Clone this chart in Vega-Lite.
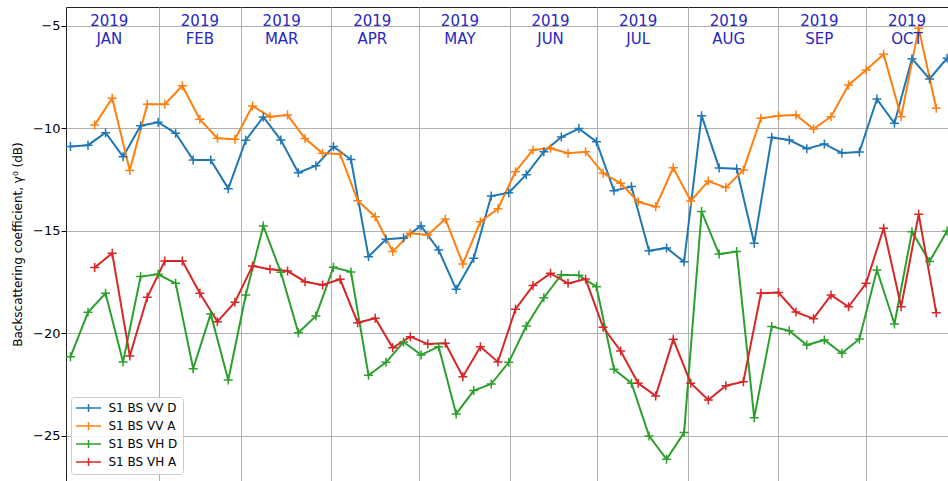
{
  "$schema": "https://vega.github.io/schema/vega-lite/v6.json",
  "autosize": "none",
  "width": 882,
  "height": 474,
  "padding": {"left": 66, "top": 7, "right": 0, "bottom": 0},
  "background": "white",
  "datasets": {
    "bs": [
      {"date":"2019-01-01T17:00:00Z","series":"S1 BS VV D","value":-10.90},
      {"date":"2019-01-07T17:00:00Z","series":"S1 BS VV D","value":-10.83},
      {"date":"2019-01-13T17:00:00Z","series":"S1 BS VV D","value":-10.22},
      {"date":"2019-01-19T17:00:00Z","series":"S1 BS VV D","value":-11.39},
      {"date":"2019-01-25T17:00:00Z","series":"S1 BS VV D","value":-9.88},
      {"date":"2019-01-31T17:00:00Z","series":"S1 BS VV D","value":-9.71},
      {"date":"2019-02-06T17:00:00Z","series":"S1 BS VV D","value":-10.25},
      {"date":"2019-02-12T17:00:00Z","series":"S1 BS VV D","value":-11.55},
      {"date":"2019-02-18T17:00:00Z","series":"S1 BS VV D","value":-11.55},
      {"date":"2019-02-24T17:00:00Z","series":"S1 BS VV D","value":-12.95},
      {"date":"2019-03-02T17:00:00Z","series":"S1 BS VV D","value":-10.59},
      {"date":"2019-03-08T17:00:00Z","series":"S1 BS VV D","value":-9.45},
      {"date":"2019-03-14T17:00:00Z","series":"S1 BS VV D","value":-10.58},
      {"date":"2019-03-20T17:00:00Z","series":"S1 BS VV D","value":-12.17},
      {"date":"2019-03-26T17:00:00Z","series":"S1 BS VV D","value":-11.83},
      {"date":"2019-04-01T17:00:00Z","series":"S1 BS VV D","value":-10.90},
      {"date":"2019-04-07T17:00:00Z","series":"S1 BS VV D","value":-11.53},
      {"date":"2019-04-13T17:00:00Z","series":"S1 BS VV D","value":-16.27},
      {"date":"2019-04-19T17:00:00Z","series":"S1 BS VV D","value":-15.42},
      {"date":"2019-04-25T17:00:00Z","series":"S1 BS VV D","value":-15.36},
      {"date":"2019-05-01T17:00:00Z","series":"S1 BS VV D","value":-14.77},
      {"date":"2019-05-07T17:00:00Z","series":"S1 BS VV D","value":-15.94},
      {"date":"2019-05-13T17:00:00Z","series":"S1 BS VV D","value":-17.86},
      {"date":"2019-05-19T17:00:00Z","series":"S1 BS VV D","value":-16.35},
      {"date":"2019-05-25T17:00:00Z","series":"S1 BS VV D","value":-13.31},
      {"date":"2019-05-31T17:00:00Z","series":"S1 BS VV D","value":-13.15},
      {"date":"2019-06-06T17:00:00Z","series":"S1 BS VV D","value":-12.27},
      {"date":"2019-06-12T17:00:00Z","series":"S1 BS VV D","value":-11.15},
      {"date":"2019-06-18T17:00:00Z","series":"S1 BS VV D","value":-10.43},
      {"date":"2019-06-24T17:00:00Z","series":"S1 BS VV D","value":-10.02},
      {"date":"2019-06-30T17:00:00Z","series":"S1 BS VV D","value":-10.66},
      {"date":"2019-07-06T17:00:00Z","series":"S1 BS VV D","value":-13.05},
      {"date":"2019-07-12T17:00:00Z","series":"S1 BS VV D","value":-12.85},
      {"date":"2019-07-18T17:00:00Z","series":"S1 BS VV D","value":-15.98},
      {"date":"2019-07-24T17:00:00Z","series":"S1 BS VV D","value":-15.84},
      {"date":"2019-07-30T17:00:00Z","series":"S1 BS VV D","value":-16.52},
      {"date":"2019-08-05T17:00:00Z","series":"S1 BS VV D","value":-9.39},
      {"date":"2019-08-11T17:00:00Z","series":"S1 BS VV D","value":-11.94},
      {"date":"2019-08-17T17:00:00Z","series":"S1 BS VV D","value":-11.98},
      {"date":"2019-08-23T17:00:00Z","series":"S1 BS VV D","value":-15.61},
      {"date":"2019-08-29T17:00:00Z","series":"S1 BS VV D","value":-10.45},
      {"date":"2019-09-04T17:00:00Z","series":"S1 BS VV D","value":-10.58},
      {"date":"2019-09-10T17:00:00Z","series":"S1 BS VV D","value":-11.00},
      {"date":"2019-09-16T17:00:00Z","series":"S1 BS VV D","value":-10.77},
      {"date":"2019-09-22T17:00:00Z","series":"S1 BS VV D","value":-11.21},
      {"date":"2019-09-28T17:00:00Z","series":"S1 BS VV D","value":-11.16},
      {"date":"2019-10-04T17:00:00Z","series":"S1 BS VV D","value":-8.58},
      {"date":"2019-10-10T17:00:00Z","series":"S1 BS VV D","value":-9.76},
      {"date":"2019-10-16T17:00:00Z","series":"S1 BS VV D","value":-6.61},
      {"date":"2019-10-22T17:00:00Z","series":"S1 BS VV D","value":-7.60},
      {"date":"2019-10-28T17:00:00Z","series":"S1 BS VV D","value":-6.59},

      {"date":"2019-01-10T00:00:00Z","series":"S1 BS VV A","value":-9.84},
      {"date":"2019-01-16T00:00:00Z","series":"S1 BS VV A","value":-8.54},
      {"date":"2019-01-22T00:00:00Z","series":"S1 BS VV A","value":-12.07},
      {"date":"2019-01-28T00:00:00Z","series":"S1 BS VV A","value":-8.83},
      {"date":"2019-02-03T00:00:00Z","series":"S1 BS VV A","value":-8.83},
      {"date":"2019-02-09T00:00:00Z","series":"S1 BS VV A","value":-7.93},
      {"date":"2019-02-15T00:00:00Z","series":"S1 BS VV A","value":-9.57},
      {"date":"2019-02-21T00:00:00Z","series":"S1 BS VV A","value":-10.49},
      {"date":"2019-02-27T00:00:00Z","series":"S1 BS VV A","value":-10.54},
      {"date":"2019-03-05T00:00:00Z","series":"S1 BS VV A","value":-8.92},
      {"date":"2019-03-11T00:00:00Z","series":"S1 BS VV A","value":-9.44},
      {"date":"2019-03-17T00:00:00Z","series":"S1 BS VV A","value":-9.36},
      {"date":"2019-03-23T00:00:00Z","series":"S1 BS VV A","value":-10.51},
      {"date":"2019-03-29T00:00:00Z","series":"S1 BS VV A","value":-11.22},
      {"date":"2019-04-04T00:00:00Z","series":"S1 BS VV A","value":-11.26},
      {"date":"2019-04-10T00:00:00Z","series":"S1 BS VV A","value":-13.54},
      {"date":"2019-04-16T00:00:00Z","series":"S1 BS VV A","value":-14.32},
      {"date":"2019-04-22T00:00:00Z","series":"S1 BS VV A","value":-16.02},
      {"date":"2019-04-28T00:00:00Z","series":"S1 BS VV A","value":-15.13},
      {"date":"2019-05-04T00:00:00Z","series":"S1 BS VV A","value":-15.21},
      {"date":"2019-05-10T00:00:00Z","series":"S1 BS VV A","value":-14.43},
      {"date":"2019-05-16T00:00:00Z","series":"S1 BS VV A","value":-16.62},
      {"date":"2019-05-22T00:00:00Z","series":"S1 BS VV A","value":-14.56},
      {"date":"2019-05-28T00:00:00Z","series":"S1 BS VV A","value":-13.93},
      {"date":"2019-06-03T00:00:00Z","series":"S1 BS VV A","value":-12.12},
      {"date":"2019-06-09T00:00:00Z","series":"S1 BS VV A","value":-11.06},
      {"date":"2019-06-15T00:00:00Z","series":"S1 BS VV A","value":-10.98},
      {"date":"2019-06-21T00:00:00Z","series":"S1 BS VV A","value":-11.22},
      {"date":"2019-06-27T00:00:00Z","series":"S1 BS VV A","value":-11.15},
      {"date":"2019-07-03T00:00:00Z","series":"S1 BS VV A","value":-12.20},
      {"date":"2019-07-09T00:00:00Z","series":"S1 BS VV A","value":-12.69},
      {"date":"2019-07-15T00:00:00Z","series":"S1 BS VV A","value":-13.59},
      {"date":"2019-07-21T00:00:00Z","series":"S1 BS VV A","value":-13.83},
      {"date":"2019-07-27T00:00:00Z","series":"S1 BS VV A","value":-11.93},
      {"date":"2019-08-02T00:00:00Z","series":"S1 BS VV A","value":-13.55},
      {"date":"2019-08-08T00:00:00Z","series":"S1 BS VV A","value":-12.58},
      {"date":"2019-08-14T00:00:00Z","series":"S1 BS VV A","value":-12.90},
      {"date":"2019-08-20T00:00:00Z","series":"S1 BS VV A","value":-12.04},
      {"date":"2019-08-26T00:00:00Z","series":"S1 BS VV A","value":-9.52},
      {"date":"2019-09-01T00:00:00Z","series":"S1 BS VV A","value":-9.40},
      {"date":"2019-09-07T00:00:00Z","series":"S1 BS VV A","value":-9.36},
      {"date":"2019-09-13T00:00:00Z","series":"S1 BS VV A","value":-10.04},
      {"date":"2019-09-19T00:00:00Z","series":"S1 BS VV A","value":-9.44},
      {"date":"2019-09-25T00:00:00Z","series":"S1 BS VV A","value":-7.89},
      {"date":"2019-10-01T00:00:00Z","series":"S1 BS VV A","value":-7.16},
      {"date":"2019-10-07T00:00:00Z","series":"S1 BS VV A","value":-6.40},
      {"date":"2019-10-13T00:00:00Z","series":"S1 BS VV A","value":-9.44},
      {"date":"2019-10-19T00:00:00Z","series":"S1 BS VV A","value":-5.13},
      {"date":"2019-10-25T00:00:00Z","series":"S1 BS VV A","value":-9.03},

      {"date":"2019-01-01T17:00:00Z","series":"S1 BS VH D","value":-21.15},
      {"date":"2019-01-07T17:00:00Z","series":"S1 BS VH D","value":-18.98},
      {"date":"2019-01-13T17:00:00Z","series":"S1 BS VH D","value":-18.05},
      {"date":"2019-01-19T17:00:00Z","series":"S1 BS VH D","value":-21.40},
      {"date":"2019-01-25T17:00:00Z","series":"S1 BS VH D","value":-17.24},
      {"date":"2019-01-31T17:00:00Z","series":"S1 BS VH D","value":-17.13},
      {"date":"2019-02-06T17:00:00Z","series":"S1 BS VH D","value":-17.57},
      {"date":"2019-02-12T17:00:00Z","series":"S1 BS VH D","value":-21.73},
      {"date":"2019-02-18T17:00:00Z","series":"S1 BS VH D","value":-19.06},
      {"date":"2019-02-24T17:00:00Z","series":"S1 BS VH D","value":-22.28},
      {"date":"2019-03-02T17:00:00Z","series":"S1 BS VH D","value":-18.14},
      {"date":"2019-03-08T17:00:00Z","series":"S1 BS VH D","value":-14.77},
      {"date":"2019-03-14T17:00:00Z","series":"S1 BS VH D","value":-17.03},
      {"date":"2019-03-20T17:00:00Z","series":"S1 BS VH D","value":-19.98},
      {"date":"2019-03-26T17:00:00Z","series":"S1 BS VH D","value":-19.16},
      {"date":"2019-04-01T17:00:00Z","series":"S1 BS VH D","value":-16.79},
      {"date":"2019-04-07T17:00:00Z","series":"S1 BS VH D","value":-17.01},
      {"date":"2019-04-13T17:00:00Z","series":"S1 BS VH D","value":-22.05},
      {"date":"2019-04-19T17:00:00Z","series":"S1 BS VH D","value":-21.42},
      {"date":"2019-04-25T17:00:00Z","series":"S1 BS VH D","value":-20.43},
      {"date":"2019-05-01T17:00:00Z","series":"S1 BS VH D","value":-21.06},
      {"date":"2019-05-07T17:00:00Z","series":"S1 BS VH D","value":-20.66},
      {"date":"2019-05-13T17:00:00Z","series":"S1 BS VH D","value":-23.94},
      {"date":"2019-05-19T17:00:00Z","series":"S1 BS VH D","value":-22.80},
      {"date":"2019-05-25T17:00:00Z","series":"S1 BS VH D","value":-22.48},
      {"date":"2019-05-31T17:00:00Z","series":"S1 BS VH D","value":-21.42},
      {"date":"2019-06-06T17:00:00Z","series":"S1 BS VH D","value":-19.65},
      {"date":"2019-06-12T17:00:00Z","series":"S1 BS VH D","value":-18.27},
      {"date":"2019-06-18T17:00:00Z","series":"S1 BS VH D","value":-17.15},
      {"date":"2019-06-24T17:00:00Z","series":"S1 BS VH D","value":-17.18},
      {"date":"2019-06-30T17:00:00Z","series":"S1 BS VH D","value":-17.73},
      {"date":"2019-07-06T17:00:00Z","series":"S1 BS VH D","value":-21.76},
      {"date":"2019-07-12T17:00:00Z","series":"S1 BS VH D","value":-22.44},
      {"date":"2019-07-18T17:00:00Z","series":"S1 BS VH D","value":-25.01},
      {"date":"2019-07-24T17:00:00Z","series":"S1 BS VH D","value":-26.15},
      {"date":"2019-07-30T17:00:00Z","series":"S1 BS VH D","value":-24.85},
      {"date":"2019-08-05T17:00:00Z","series":"S1 BS VH D","value":-14.07},
      {"date":"2019-08-11T17:00:00Z","series":"S1 BS VH D","value":-16.14},
      {"date":"2019-08-17T17:00:00Z","series":"S1 BS VH D","value":-16.02},
      {"date":"2019-08-23T17:00:00Z","series":"S1 BS VH D","value":-24.12},
      {"date":"2019-08-29T17:00:00Z","series":"S1 BS VH D","value":-19.68},
      {"date":"2019-09-04T17:00:00Z","series":"S1 BS VH D","value":-19.88},
      {"date":"2019-09-10T17:00:00Z","series":"S1 BS VH D","value":-20.58},
      {"date":"2019-09-16T17:00:00Z","series":"S1 BS VH D","value":-20.33},
      {"date":"2019-09-22T17:00:00Z","series":"S1 BS VH D","value":-20.98},
      {"date":"2019-09-28T17:00:00Z","series":"S1 BS VH D","value":-20.28},
      {"date":"2019-10-04T17:00:00Z","series":"S1 BS VH D","value":-16.92},
      {"date":"2019-10-10T17:00:00Z","series":"S1 BS VH D","value":-19.55},
      {"date":"2019-10-16T17:00:00Z","series":"S1 BS VH D","value":-15.05},
      {"date":"2019-10-22T17:00:00Z","series":"S1 BS VH D","value":-16.50},
      {"date":"2019-10-28T17:00:00Z","series":"S1 BS VH D","value":-15.01},

      {"date":"2019-01-10T00:00:00Z","series":"S1 BS VH A","value":-16.80},
      {"date":"2019-01-16T00:00:00Z","series":"S1 BS VH A","value":-16.10},
      {"date":"2019-01-22T00:00:00Z","series":"S1 BS VH A","value":-21.11},
      {"date":"2019-01-28T00:00:00Z","series":"S1 BS VH A","value":-18.25},
      {"date":"2019-02-03T00:00:00Z","series":"S1 BS VH A","value":-16.48},
      {"date":"2019-02-09T00:00:00Z","series":"S1 BS VH A","value":-16.48},
      {"date":"2019-02-15T00:00:00Z","series":"S1 BS VH A","value":-18.05},
      {"date":"2019-02-21T00:00:00Z","series":"S1 BS VH A","value":-19.44},
      {"date":"2019-02-27T00:00:00Z","series":"S1 BS VH A","value":-18.49},
      {"date":"2019-03-05T00:00:00Z","series":"S1 BS VH A","value":-16.72},
      {"date":"2019-03-11T00:00:00Z","series":"S1 BS VH A","value":-16.88},
      {"date":"2019-03-17T00:00:00Z","series":"S1 BS VH A","value":-16.97},
      {"date":"2019-03-23T00:00:00Z","series":"S1 BS VH A","value":-17.49},
      {"date":"2019-03-29T00:00:00Z","series":"S1 BS VH A","value":-17.65},
      {"date":"2019-04-04T00:00:00Z","series":"S1 BS VH A","value":-17.37},
      {"date":"2019-04-10T00:00:00Z","series":"S1 BS VH A","value":-19.49},
      {"date":"2019-04-16T00:00:00Z","series":"S1 BS VH A","value":-19.27},
      {"date":"2019-04-22T00:00:00Z","series":"S1 BS VH A","value":-20.71},
      {"date":"2019-04-28T00:00:00Z","series":"S1 BS VH A","value":-20.17},
      {"date":"2019-05-04T00:00:00Z","series":"S1 BS VH A","value":-20.53},
      {"date":"2019-05-10T00:00:00Z","series":"S1 BS VH A","value":-20.49},
      {"date":"2019-05-16T00:00:00Z","series":"S1 BS VH A","value":-22.12},
      {"date":"2019-05-22T00:00:00Z","series":"S1 BS VH A","value":-20.66},
      {"date":"2019-05-28T00:00:00Z","series":"S1 BS VH A","value":-21.40},
      {"date":"2019-06-03T00:00:00Z","series":"S1 BS VH A","value":-18.83},
      {"date":"2019-06-09T00:00:00Z","series":"S1 BS VH A","value":-17.68},
      {"date":"2019-06-15T00:00:00Z","series":"S1 BS VH A","value":-17.08},
      {"date":"2019-06-21T00:00:00Z","series":"S1 BS VH A","value":-17.57},
      {"date":"2019-06-27T00:00:00Z","series":"S1 BS VH A","value":-17.36},
      {"date":"2019-07-03T00:00:00Z","series":"S1 BS VH A","value":-19.71},
      {"date":"2019-07-09T00:00:00Z","series":"S1 BS VH A","value":-20.87},
      {"date":"2019-07-15T00:00:00Z","series":"S1 BS VH A","value":-22.44},
      {"date":"2019-07-21T00:00:00Z","series":"S1 BS VH A","value":-23.06},
      {"date":"2019-07-27T00:00:00Z","series":"S1 BS VH A","value":-20.30},
      {"date":"2019-08-02T00:00:00Z","series":"S1 BS VH A","value":-22.44},
      {"date":"2019-08-08T00:00:00Z","series":"S1 BS VH A","value":-23.26},
      {"date":"2019-08-14T00:00:00Z","series":"S1 BS VH A","value":-22.56},
      {"date":"2019-08-20T00:00:00Z","series":"S1 BS VH A","value":-22.37},
      {"date":"2019-08-26T00:00:00Z","series":"S1 BS VH A","value":-18.05},
      {"date":"2019-09-01T00:00:00Z","series":"S1 BS VH A","value":-18.02},
      {"date":"2019-09-07T00:00:00Z","series":"S1 BS VH A","value":-18.97},
      {"date":"2019-09-13T00:00:00Z","series":"S1 BS VH A","value":-19.29},
      {"date":"2019-09-19T00:00:00Z","series":"S1 BS VH A","value":-18.14},
      {"date":"2019-09-25T00:00:00Z","series":"S1 BS VH A","value":-18.71},
      {"date":"2019-10-01T00:00:00Z","series":"S1 BS VH A","value":-17.57},
      {"date":"2019-10-07T00:00:00Z","series":"S1 BS VH A","value":-14.88},
      {"date":"2019-10-13T00:00:00Z","series":"S1 BS VH A","value":-18.71},
      {"date":"2019-10-19T00:00:00Z","series":"S1 BS VH A","value":-14.20},
      {"date":"2019-10-25T00:00:00Z","series":"S1 BS VH A","value":-19.00}
    ],
    "months": [
      {"date":"2019-01-15T00:00:00Z","year":"2019","month":"JAN"},
      {"date":"2019-02-15T00:00:00Z","year":"2019","month":"FEB"},
      {"date":"2019-03-15T00:00:00Z","year":"2019","month":"MAR"},
      {"date":"2019-04-15T00:00:00Z","year":"2019","month":"APR"},
      {"date":"2019-05-15T00:00:00Z","year":"2019","month":"MAY"},
      {"date":"2019-06-15T00:00:00Z","year":"2019","month":"JUN"},
      {"date":"2019-07-15T00:00:00Z","year":"2019","month":"JUL"},
      {"date":"2019-08-15T00:00:00Z","year":"2019","month":"AUG"},
      {"date":"2019-09-15T00:00:00Z","year":"2019","month":"SEP"},
      {"date":"2019-10-15T00:00:00Z","year":"2019","month":"OCT"}
    ]
  },
  "encoding": {
    "x": {
      "field": "date",
      "type": "temporal",
      "scale": {
        "type": "utc",
        "domain": [
          {"year": 2018, "month": 12, "date": 31, "hours": 4, "minutes": 20, "utc": true},
          {"year": 2019, "month": 10, "date": 29, "hours": 0, "minutes": 45, "utc": true}
        ]
      },
      "axis": {
        "title": null,
        "labels": false,
        "ticks": false,
        "domain": false,
        "grid": true,
        "gridColor": "#b0b0b0",
        "gridWidth": 1,
        "values": [
          {"year": 2019, "month": 2, "date": 1, "utc": true},
          {"year": 2019, "month": 3, "date": 1, "utc": true},
          {"year": 2019, "month": 4, "date": 1, "utc": true},
          {"year": 2019, "month": 5, "date": 1, "utc": true},
          {"year": 2019, "month": 6, "date": 1, "utc": true},
          {"year": 2019, "month": 7, "date": 1, "utc": true},
          {"year": 2019, "month": 8, "date": 1, "utc": true},
          {"year": 2019, "month": 9, "date": 1, "utc": true},
          {"year": 2019, "month": 10, "date": 1, "utc": true}
        ]
      }
    }
  },
  "layer": [
    {
      "data": {"name": "bs"},
      "mark": {"type": "line", "strokeWidth": 2, "clip": true},
      "encoding": {
        "y": {
          "field": "value",
          "type": "quantitative",
          "scale": {"domain": [-27.21, -4.09], "nice": false, "zero": false},
          "axis": {
            "title": "Backscattering coefficient, γ⁰ (dB)",
            "values": [-25, -20, -15, -10, -5],
            "grid": true,
            "gridColor": "#b0b0b0",
            "gridWidth": 1,
            "domain": false,
            "tickSize": 5,
            "tickColor": "#000000",
            "labelFontSize": 13,
            "labelColor": "#000000",
            "labelPadding": 1,
            "titleFontSize": 12,
            "titleFontWeight": "normal",
            "titleColor": "#000000",
            "titlePadding": 8
          }
        },
        "color": {
          "field": "series",
          "type": "nominal",
          "scale": {
            "domain": ["S1 BS VV D", "S1 BS VV A", "S1 BS VH D", "S1 BS VH A"],
            "range": ["#1f77b4", "#ff7f0e", "#2ca02c", "#d62728"]
          },
          "legend": {
            "title": null,
            "orient": "none",
            "legendX": 5,
            "legendY": 390,
            "fillColor": "rgba(255,255,255,0.85)",
            "strokeColor": "#cccccc",
            "cornerRadius": 3,
            "padding": 5,
            "rowPadding": 4,
            "symbolType": "M-2.5,0H2.5M0,-0.8V0.8",
            "symbolSize": 100,
            "symbolStrokeWidth": 1.5,
            "symbolFillColor": "transparent",
            "symbolOffset": 6.5,
            "labelOffset": 14,
            "labelFontSize": 12,
            "labelColor": "#000000"
          }
        }
      }
    },
    {
      "data": {"name": "bs"},
      "mark": {"type": "point", "shape": "M-1,0H1M0,-1V1", "filled": false, "size": 81, "strokeWidth": 1.5, "opacity": 1, "clip": true},
      "encoding": {
        "y": {"field": "value", "type": "quantitative"},
        "color": {"field": "series", "type": "nominal"}
      }
    },
    {
      "data": {"name": "months"},
      "mark": {"type": "text", "fontSize": 15, "color": "#2828c0", "align": "center", "baseline": "middle"},
      "encoding": {
        "y": {"datum": -4.76},
        "text": {"field": "year"}
      }
    },
    {
      "data": {"name": "months"},
      "mark": {"type": "text", "fontSize": 15, "color": "#2828c0", "align": "center", "baseline": "middle"},
      "encoding": {
        "y": {"datum": -5.63},
        "text": {"field": "month"}
      }
    }
  ],
  "config": {
    "font": "DejaVu Sans",
    "view": {"stroke": "#222222", "strokeWidth": 1}
  }
}
